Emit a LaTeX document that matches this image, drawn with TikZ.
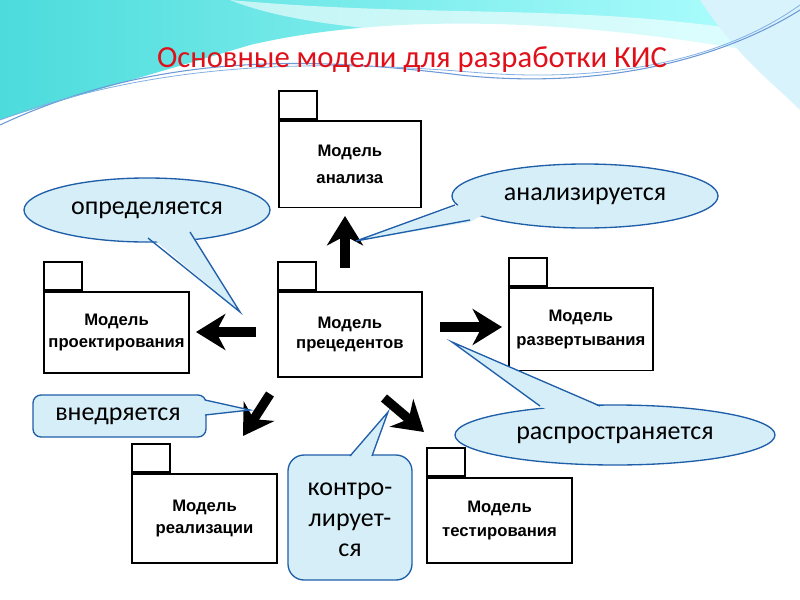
\documentclass[tikz,border=0pt]{standalone}
\usepackage{fontspec}
\setmainfont{Carlito}
\newfontfamily\arialb{Liberation Sans}
\usetikzlibrary{arrows.meta}
\definecolor{cfill}{HTML}{D6EEF8}
\definecolor{cline}{HTML}{1F5EA8}
\definecolor{tred}{HTML}{E0101A}
\begin{document}
\begin{tikzpicture}[x=0.75pt,y=-0.75pt,
  body/.style={draw,line width=1.3pt,fill=white,anchor=north west,inner sep=0pt,font=\arialb\bfseries\fontsize{12.5}{18}\selectfont,align=center},
  tab/.style={draw,line width=1.3pt,fill=white,anchor=south west,minimum width=28.5pt,minimum height=21pt,inner sep=0pt},
  bigarrow/.style={line width=7pt,-{Stealth[length=22pt,width=27pt,inset=7pt]}},
  callout/.style={fill=cfill,draw=cline,line width=1pt},
  ctext/.style={font=\fontsize{19.5}{24}\selectfont,align=center}]
\useasboundingbox (0,0) rectangle (800,600);
% background swoosh
\fill[white] (0,0) rectangle (800,600);
\shade[left color=cyan!60!teal!70,right color=cyan!30] (0,0) -- (800,0) -- (800,60) .. controls (600,20) and (400,10) .. (250,45) .. controls (150,75) and (60,100) .. (0,120) -- cycle;
\fill[white,opacity=0.6] (230,0) .. controls (330,40) and (500,30) .. (800,70) -- (800,40) .. controls (600,0) and (450,20) .. (230,0) -- cycle;
\fill[cyan!15] (700,0) .. controls (740,60) and (770,80) .. (800,110) -- (800,0) -- cycle;
\draw[cyan!50!blue!60,line width=0.8pt] (0,125) .. controls (150,55) and (300,55) .. (460,75) .. controls (600,90) and (720,60) .. (800,10);
\draw[cyan!60!blue!50,line width=0.6pt] (0,120) .. controls (160,60) and (320,60) .. (470,72) .. controls (620,85) and (730,55) .. (800,5);
\node[text=tred,font=\fontsize{23}{28}\selectfont] (title) at (412,60) {Основные модели для разработки КИС};
% boxes
\node[body,minimum width=106.5pt,minimum height=65pt] (an) at (278,120) {Модель\\[2pt]анализа};
\node[tab] (ant) at (an.north west) {};
\node[body,minimum width=109pt,minimum height=61pt] (pr) at (43,291) {Модель\\[-2pt]проектирования};
\node[tab] (prt) at (pr.north west) {};
\node[body,minimum width=108pt,minimum height=64pt] (pc) at (277,291) {Модель\\[-3pt]прецедентов};
\node[tab] (pct) at (pc.north west) {};
\node[body,minimum width=108pt,minimum height=62pt] (rz) at (508,287) {Модель\\[0pt]развертывания};
\node[tab] (rzt) at (rz.north west) {};
\node[body,minimum width=109pt,minimum height=67pt] (rl) at (131,473) {Модель\\[-2pt]реализации};
\node[tab] (rlt) at (rl.north west) {};
\node[body,minimum width=109pt,minimum height=64pt] (ts) at (426,477) {Модель\\[0pt]тестирования};
\node[tab] (tst) at (ts.north west) {};
% arrows
\coordinate (u1) at (345,268); \coordinate (u2) at (345,216);
\coordinate (l1) at (256,332); \coordinate (l2) at (196,332);
\coordinate (r1) at (440,327); \coordinate (r2) at (502,327);
\coordinate (d1) at (270,394); \coordinate (d2) at (243,436);
\coordinate (e1) at (384,398); \coordinate (e2) at (424,432);
\draw[bigarrow] (u1) -- (u2);
\draw[bigarrow] (l1) -- (l2);
\draw[bigarrow] (r1) -- (r2);
\draw[bigarrow] (d1) -- (d2);
\draw[bigarrow] (e1) -- (e2);
% callouts
\coordinate (t1) at (240,312);
\draw[callout] (147,210) ellipse [x radius=123, y radius=32];
\fill[cfill] (150,236) -- (t1) -- (190,231) -- (185,220) -- cycle;
\draw[cline,line width=1pt] (148,238) -- (t1) -- (190,232);
\node[ctext] (c1) at (147,210) {определяется};

\coordinate (t2) at (356,241);
\draw[callout] (585,196) ellipse [x radius=133, y radius=32];
\fill[cfill] (470,222) -- (t2) -- (462,204) -- (500,205) -- cycle;
\draw[cline,line width=1pt] (455,205) -- (t2) -- (470,220);
\node[ctext] (c2) at (585,196) {анализируется};

\coordinate (t3) at (452,342);
\draw[callout] (615,435) ellipse [x radius=160, y radius=30];
\fill[cfill] (540,407) -- (t3) -- (600,407) -- (580,420) -- cycle;
\draw[cline,line width=1pt] (540,406) -- (t3) -- (600,406);
\node[ctext] (c3) at (615,435) {распространяется};

\coordinate (t4) at (250,410);
\draw[callout,rounded corners=6pt] (33,395) rectangle (206,437);
\fill[cfill] (205,400) -- (t4) -- (205,415) -- cycle;
\draw[cline,line width=1pt] (205,400) -- (t4) -- (205,415);
\node[ctext] (c4) at (118,416) {внедряется};

\coordinate (t5) at (388,412);
\draw[callout,rounded corners=12pt] (288,455) rectangle (412,580);
\fill[cfill] (350,457) -- (t5) -- (372,457) -- (362,470) -- cycle;
\draw[cline,line width=1pt] (350,456) -- (t5) -- (372,456);
\node[ctext,font=\fontsize{19.5}{23}\selectfont] (c5) at (350,520) {контро-\\лирует-\\ся};
\end{tikzpicture}
\end{document}
